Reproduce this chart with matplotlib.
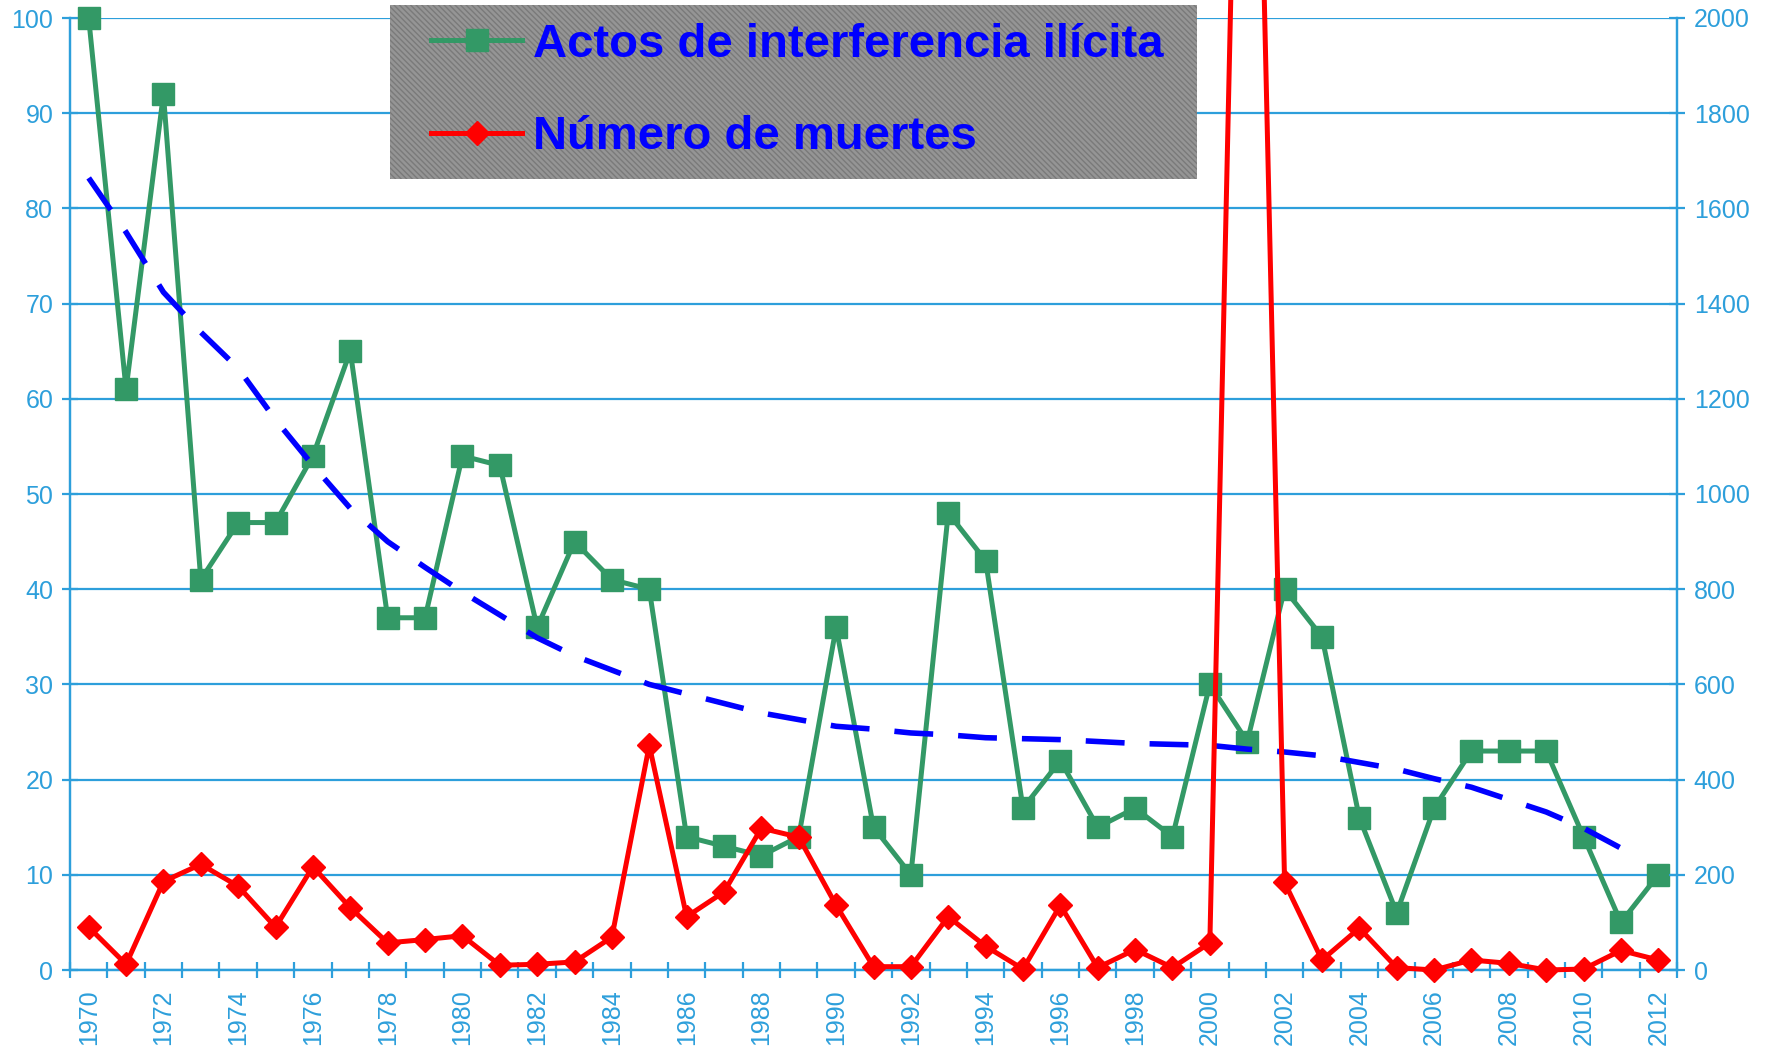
import matplotlib
matplotlib.use("Agg")
import matplotlib.pyplot as plt
from matplotlib.lines import Line2D
from matplotlib.patches import Rectangle

years = list(range(1970, 2013))

# actos de interferencia ilicita (eje izquierdo)
actos = [100, 61, 92, 41, 47, 47, 54, 65, 37, 37,
         54, 53, 36, 45, 41, 40, 14, 13, 12, 14,
         36, 15, 10, 48, 43, 17, 22, 15, 17, 14,
         30, 24, 40, 35, 16, 6, 17, 23, 23, 23,
         14, 5, 10]

# numero de muertes (eje derecho), 2001 se sale del grafico
muertes = [90, 12, 186, 222, 176, 90, 217, 131, 57, 64,
           72, 10, 12, 17, 69, 472, 112, 164, 298, 279,
           136, 7, 7, 112, 50, 2, 136, 5, 43, 5,
           57, 3600, 184, 21, 88, 5, 0, 21, 14, 0,
           2, 41, 21]

# linea de tendencia de los actos (1970-2011)
tendencia = [83.2, 77.5, 71.2, 67.0, 63.2, 57.8, 53.0, 48.5, 45.0, 42.3,
             39.7, 37.3, 34.9, 33.0, 31.5, 30.0, 29.0, 28.0, 27.0, 26.3,
             25.6, 25.3, 24.9, 24.7, 24.4, 24.3, 24.2, 24.0, 23.8, 23.7,
             23.6, 23.2, 22.9, 22.5, 21.8, 21.1, 20.1, 19.2, 17.9, 16.6,
             14.9, 12.8]

left_ticks = list(range(0, 101, 10))
right_ticks = list(range(0, 2001, 200))
labels = ['Actos de interferencia ilícita', 'Número de muertes']

blue_axis = '#2D9FDB'
green = '#339966'
red = '#FF0000'
trend_blue = '#0000FF'

plt.rcParams['font.family'] = ['Liberation Sans', 'DejaVu Sans']

W, H = 1777, 1046
fig = plt.figure(figsize=(W / 100, H / 100), dpi=100)
ax = fig.add_axes([70 / W, 1 - 970 / H, 1607 / W, 952 / H])
ax2 = ax.twinx()

x = list(range(len(years)))

ax.plot(x, actos, color=green, lw=3.6, marker='s', markersize=16.5,
        clip_on=False, zorder=3)
ax.plot(x[:len(tendencia)], tendencia, color=trend_blue, lw=4,
        dashes=(7, 4.5), dash_capstyle='butt', clip_on=False, zorder=4)
ax2.plot(x, muertes, color=red, lw=3.6, marker='D', markersize=12,
         clip_on=False, zorder=3)

ax.set_xlim(-0.5, len(years) - 0.5)
ax.set_ylim(0, 100)
ax2.set_ylim(0, 2000)

ax.set_yticks(left_ticks)
ax2.set_yticks(right_ticks)
ax.yaxis.grid(True, color=blue_axis, lw=1.6)
ax.set_axisbelow(True)

# marcas en los limites de categoria, etiquetas en los anos pares
ax.set_xticks([i - 0.5 for i in range(len(years) + 1)])
ax.set_xticklabels([])
ax.set_xticks([i for i, y in enumerate(years) if y % 2 == 0], minor=True)
ax.set_xticklabels([str(y) for y in years if y % 2 == 0], minor=True,
                   rotation=90, fontsize=18, color=blue_axis)
ax.tick_params(axis='x', which='major', direction='inout', length=12,
               width=1.6, color=blue_axis)
ax.tick_params(axis='x', which='minor', length=0, pad=14)

for a in (ax, ax2):
    a.tick_params(axis='y', direction='inout', length=12, width=1.6,
                  color=blue_axis, labelcolor=blue_axis, labelsize=18, pad=6)
    a.spines['top'].set_visible(False)
    for s in ('left', 'right', 'bottom'):
        a.spines[s].set_color(blue_axis)
        a.spines[s].set_linewidth(1.6)

# caja gris rayada de la leyenda
box = Rectangle((390 / W, 1 - 179 / H), 807 / W, 174 / H,
                transform=fig.transFigure, facecolor='#959595',
                edgecolor='#7a7a7a', hatch='\\\\\\\\\\\\', lw=0, zorder=5)
fig.patches.append(box)

handles = [
    Line2D([], [], color=green, lw=3.6, marker='s', markersize=16.5),
    Line2D([], [], color=red, lw=3.6, marker='D', markersize=12),
]
leg = fig.legend(handles, labels, loc='upper left',
                 bbox_to_anchor=(431 / W, 1 - 23 / H),
                 borderaxespad=0, borderpad=0, frameon=False,
                 prop={'family': ['Liberation Sans Narrow', 'Liberation Sans'],
                       'weight': 'bold', 'size': 34},
                 handlelength=1.93, handletextpad=0.22, labelspacing=1.02)
leg.set_zorder(6)
for t in leg.get_texts():
    t.set_color('#0000FF')

fig.savefig('out.png', dpi=100)
